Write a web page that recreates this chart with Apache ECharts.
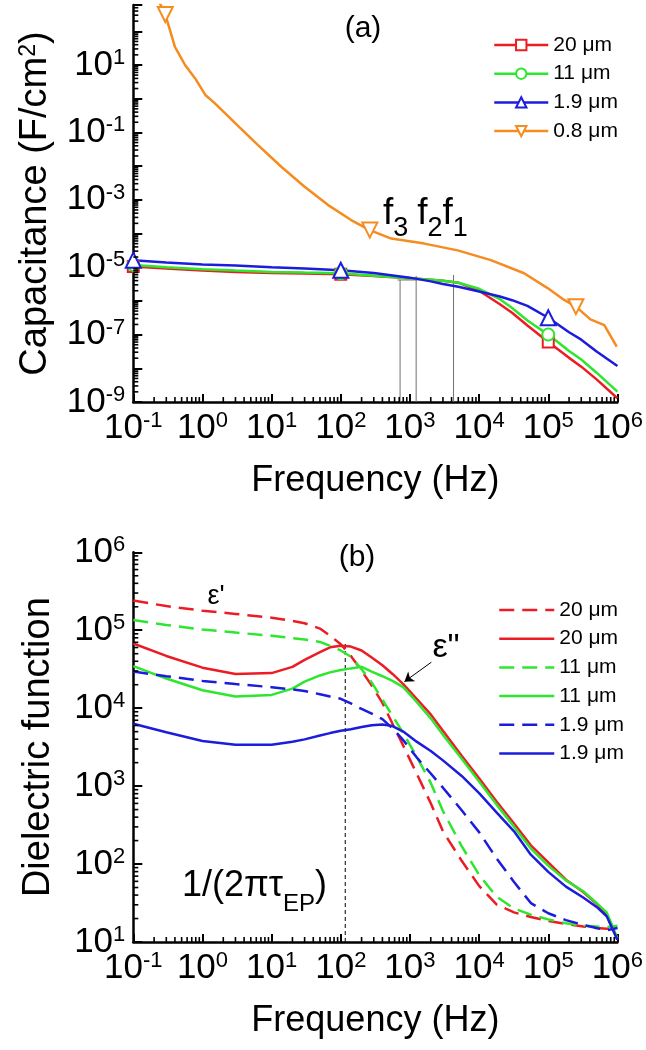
<!DOCTYPE html>
<html><head><meta charset="utf-8">
<script src="https://cdn.jsdelivr.net/npm/echarts@6.0.0/dist/echarts.min.js"></script>
<style>html,body{margin:0;padding:0;background:#fff}#c{width:646px;height:1050px}</style>
</head><body><div id="c"></div>
<script>
// ---------------- Panel (a): capacitance ----------------
const freqA = [0.1, 0.3, 1, 3, 10, 30, 100, 300, 1000, 2000, 3000, 5000, 1e4, 2e4, 3e4, 5e4, 1e5, 2e5, 3e5, 5e5, 1e6];
const capA_20um = [1.05e-5, 9.12e-6, 7.94e-6, 7.24e-6, 6.76e-6, 6.46e-6, 6.17e-6, 5.50e-6, 4.68e-6, 4.27e-6, 3.98e-6, 3.47e-6, 2.00e-6, 7.94e-7, 4.47e-7, 1.86e-7, 6.03e-8, 2.04e-8, 1.12e-8, 4.68e-9, 1.29e-9];
const capA_11um = [1.17e-5, 1.00e-5, 8.71e-6, 7.94e-6, 7.24e-6, 6.92e-6, 6.61e-6, 5.62e-6, 4.68e-6, 4.27e-6, 3.98e-6, 3.47e-6, 2.29e-6, 1.12e-6, 6.17e-7, 2.63e-7, 1.00e-7, 3.24e-8, 1.82e-8, 7.41e-9, 2.04e-9];
const capA_1p9um = [1.62e-5, 1.38e-5, 1.20e-5, 1.12e-5, 1.00e-5, 9.12e-6, 8.13e-6, 6.76e-6, 4.90e-6, 3.80e-6, 3.16e-6, 2.63e-6, 1.91e-6, 1.35e-6, 1.05e-6, 7.08e-7, 3.16e-7, 1.17e-7, 7.08e-8, 3.16e-8, 1.17e-8];
const freqA_0p8um = [0.23, 0.29, 0.40, 0.56, 0.78, 1.1, 1.5, 2.95, 6.3, 13.8, 30, 65, 141, 263, 537, 1620, 4900, 14800, 44700, 97700, 170000, 251000, 407000, 646000, 977000];
const capA_0p8um = [851, 316, 34.7, 10.0, 4.07, 1.29, 0.741, 0.191, 0.0427, 0.00955, 0.00245, 7.08e-4, 2.51e-4, 1.26e-4, 7.08e-5, 5.01e-5, 3.16e-5, 1.62e-5, 6.61e-6, 2.40e-6, 1.07e-6, 6.76e-7, 2.82e-7, 1.91e-7, 4.37e-8];
const markerFreqA = [0.1, 100, 1e5];
const markerFreqA_0p8um = [0.29, 263, 251000];
const guideFreqA = [720, 1230, 4270];          // f3, f2, f1
const guideTopCapA = [4.17e-6, 5.50e-6, 5.89e-6];
const guideBarFreqA = [660, 1290];
const guideBarCapA = 4.17e-6;

// ---------------- Panel (b): dielectric function ----------------
const freqB = [0.1, 0.3, 1, 3, 10, 20, 30, 50, 70, 100, 140, 200, 280, 400, 560, 800, 1250, 2000, 3000, 5600, 1e4, 1.8e4, 3.2e4, 5.6e4, 1e5, 1.8e5, 3.2e5, 5e5, 7e5, 1e6];
const epsReal_20um = [240000, 204000, 178000, 162000, 145000, 132000, 123000, 105000, 85100, 66100, 46800, 30200, 19500, 11700, 6310, 3310, 1450, 603, 263, 110, 52.5, 30.2, 24.0, 20.9, 18.6, 17.0, 15.8, 15.1, 14.8, 15.1];
const epsImag_20um = [67600, 46800, 33100, 27500, 28200, 33900, 41700, 52500, 60300, 63100, 61700, 55000, 44700, 35500, 27500, 20400, 13200, 8320, 5130, 2450, 1260, 631, 331, 174, 105, 63.1, 43.7, 30.9, 22.4, 10.7];
const epsReal_11um = [135000, 117000, 102000, 93300, 85100, 79400, 75900, 70800, 63100, 55000, 45700, 31600, 21400, 12900, 7940, 4790, 2400, 1100, 479, 170, 72.4, 38.0, 26.9, 22.4, 19.5, 17.4, 16.2, 15.8, 15.5, 16.2];
const epsImag_11um = [34700, 24000, 17000, 14100, 14800, 17800, 21900, 26300, 28800, 30900, 32400, 33900, 29500, 25700, 22400, 18600, 12000, 7410, 4570, 2240, 1150, 575, 302, 158, 95.5, 61.7, 44.7, 31.6, 24.0, 11.2];
const epsReal_1p9um = [29500, 25700, 22400, 20400, 18600, 17400, 16600, 15100, 14100, 13200, 11500, 9770, 8510, 7240, 5500, 3890, 2340, 1450, 955, 490, 257, 117, 58.9, 31.6, 23.4, 19.1, 16.6, 15.1, 14.1, 15.1];
const epsImag_1p9um = [6310, 4900, 3800, 3390, 3390, 3720, 3980, 4470, 4790, 5130, 5370, 5750, 6030, 6170, 5890, 5010, 3720, 2820, 2140, 1350, 813, 457, 263, 132, 79.4, 51.3, 37.2, 28.2, 21.4, 10.7];
const tauEPFreq = 116;       // 1/(2*pi*tau_EP)
const tauEPTopEps = 69200;
const arrowFrom = [2040, 38900];   // [Hz, eps] label arrow for eps''
const arrowTo = [832, 21900];

// ---------------- Tick labels (decade exponents) ----------------
const freqTickExp = [-1, 0, 1, 2, 3, 4, 5, 6];
const capTickExp = [-9, -7, -5, -3, -1, 1];
const epsTickExp = [1, 2, 3, 4, 5, 6];
const legendA = ['20 μm', '11 μm', '1.9 μm', '0.8 μm'];
const legendB = ['20 μm', '20 μm', '11 μm', '11 μm', '1.9 μm', '1.9 μm'];

// ---------------- styling / helpers ----------------
const FONT = "'Liberation Sans', Arial, Helvetica, sans-serif";
const RED = '#ec1c24', GREEN = '#2ee62e', BLUE = '#1c1cdc', ORANGE = '#f68b1f';
const lg = Math.log10;
const AX = { xMin: -1, xMax: 6, capMin: -9, capMax: 2.78, epsMin: 1, epsMax: 6 };

const labelRich = {
  b: { fontSize: 35, fontFamily: FONT, color: '#000', lineHeight: 36, verticalAlign: 'middle' },
  s: { fontSize: 22, fontFamily: FONT, color: '#000', lineHeight: 22, verticalAlign: 'top', padding: [0, 0, 30, 0] }
};
function expLabel(allowed) {
  return function (v) {
    const n = Math.round(v);
    if (Math.abs(v - n) > 1e-6 || allowed.indexOf(n) < 0) return '';
    return '{b|10}{s|' + n + '}';
  };
}
function toPts(fs, vs, marks) {
  return fs.map(function (f, i) {
    const item = { value: [lg(f), lg(vs[i])] };
    if (!marks || marks.indexOf(f) < 0) item.symbol = 'none';
    return item;
  });
}
function minorVals(lo, hi) {
  const out = [];
  for (let d = Math.floor(lo); d < hi; d++) for (let k = 2; k <= 9; k++) { const v = d + lg(k); if (v > lo && v < hi) out.push(v); }
  return out;
}
function minorTicks(gi, axis, lo, hi, fixed) {
  const vals = minorVals(lo, hi);
  return {
    type: 'custom', xAxisIndex: gi, yAxisIndex: gi, silent: true, clip: false, z: 10, animation: false,
    data: vals.map(v => axis === 'x' ? [v, fixed] : [fixed, v]),
    renderItem: function (params, api) {
      const p = api.coord([api.value(0), api.value(1)]);
      return { type: 'line', shape: axis === 'x' ? { x1: p[0], y1: p[1], x2: p[0], y2: p[1] - 5 } : { x1: p[0], y1: p[1], x2: p[0] + 5, y2: p[1] },
        style: { stroke: '#000', lineWidth: 1.6 } };
    }
  };
}
function xAxisCfg(gi) {
  return {
    type: 'value', gridIndex: gi, min: AX.xMin, max: AX.xMax, interval: 1,
    axisLine: { onZero: false, lineStyle: { color: '#000', width: 2.5 } },
    axisTick: { inside: true, length: 8, lineStyle: { color: '#000', width: 2 } },
    axisLabel: { formatter: expLabel(freqTickExp), margin: 8, rich: labelRich },
    splitLine: { show: false },
    name: 'Frequency (Hz)', nameLocation: 'middle', nameGap: 60,
    nameTextStyle: { fontSize: 36, fontFamily: FONT, color: '#000' }
  };
}
function yAxisCfg(gi, min, max, ticks, name, gap) {
  return {
    type: 'value', gridIndex: gi, min: min, max: max, interval: 1,
    axisLine: { onZero: false, lineStyle: { color: '#000', width: 2.5 } },
    axisTick: { inside: true, length: 9, lineStyle: { color: '#000', width: 2 } },
    axisLabel: { formatter: expLabel(ticks), margin: 8, rich: labelRich },
    splitLine: { show: false },
    name: name, nameLocation: 'middle', nameGap: gap,
    nameTextStyle: { fontSize: 38, fontFamily: FONT, color: '#000',
      rich: { sup: { fontSize: 23, fontFamily: FONT, color: '#000', lineHeight: 23, verticalAlign: 'top', padding: [0, 0, 16, 0] } } }
  };
}
function capSeries(name, color, symbol, size, rotate, fs, vs, marks) {
  return { name: name, type: 'line', xAxisIndex: 0, yAxisIndex: 0, data: toPts(fs, vs, marks),
    symbol: symbol, symbolSize: size, symbolRotate: rotate, showSymbol: true, clip: true,
    lineStyle: { color: color, width: 2.5 }, itemStyle: { color: color, borderWidth: 2 }, z: 3 };
}
function epsSeries(name, color, dashed, vs, extra) {
  return Object.assign({ name: name, type: 'line', xAxisIndex: 1, yAxisIndex: 1,
    data: freqB.map((f, i) => [lg(f), lg(vs[i])]), symbol: 'none', clip: true,
    lineStyle: { color: color, width: 2.5, type: dashed ? [15, 8] : 'solid' }, itemStyle: { color: color }, z: 3 }, extra || {});
}
function guideLine(points, color, width, type, gi) {
  return { type: 'line', xAxisIndex: gi, yAxisIndex: gi, data: points, symbol: 'none', silent: true,
    lineStyle: { color: color, width: width, type: type }, z: 2 };
}

const namesA = legendA.map(t => 'C|' + t);
const namesB = legendB.map((t, i) => (i % 2 === 0 ? 'Re|' : 'Im|') + t);

const series = [
  capSeries(namesA[0], RED, 'emptyRect', 11, 0, freqA, capA_20um, markerFreqA),
  capSeries(namesA[1], GREEN, 'emptyCircle', 12, 0, freqA, capA_11um, markerFreqA),
  capSeries(namesA[2], BLUE, 'emptyTriangle', 15, 0, freqA, capA_1p9um, markerFreqA),
  capSeries(namesA[3], ORANGE, 'emptyTriangle', 15, 180, freqA_0p8um, capA_0p8um, markerFreqA_0p8um),
  epsSeries(namesB[0], RED, true, epsReal_20um),
  epsSeries(namesB[1], RED, false, epsImag_20um, {
    markLine: { silent: true, animation: false, symbol: ['none', 'arrow'], symbolSize: 9, label: { show: false },
      lineStyle: { color: '#000', width: 1, type: 'solid' },
      data: [[{ coord: [lg(arrowFrom[0]), lg(arrowFrom[1])] }, { coord: [lg(arrowTo[0]), lg(arrowTo[1])] }]] }
  }),
  epsSeries(namesB[2], GREEN, true, epsReal_11um),
  epsSeries(namesB[3], GREEN, false, epsImag_11um),
  epsSeries(namesB[4], BLUE, true, epsReal_1p9um),
  epsSeries(namesB[5], BLUE, false, epsImag_1p9um)
];
guideFreqA.forEach((f, i) => series.push(guideLine([[lg(f), AX.capMin], [lg(f), lg(guideTopCapA[i])]], '#707070', 1, 'solid', 0)));
series.push(guideLine(guideBarFreqA.map(f => [lg(f), lg(guideBarCapA)]), '#707070', 1, 'solid', 0));
series.push(guideLine([[lg(tauEPFreq), AX.epsMin], [lg(tauEPFreq), lg(tauEPTopEps)]], '#000', 1, [4, 3], 1));
series.push(minorTicks(0, 'x', AX.xMin, AX.xMax, AX.capMin));
series.push(minorTicks(0, 'y', AX.capMin, AX.capMax, AX.xMin));
series.push(minorTicks(1, 'x', AX.xMin, AX.xMax, AX.epsMin));
series.push(minorTicks(1, 'y', AX.epsMin, AX.epsMax, AX.xMin));

const legendCommon = {
  orient: 'vertical', selectedMode: false, itemHeight: 13, itemGap: 6.7,
  formatter: n => n.split('|')[1],
  textStyle: { fontSize: 21, fontFamily: FONT, color: '#000', lineHeight: 22 }
};

const option = {
  animation: false,
  backgroundColor: '#fff',
  textStyle: { fontFamily: FONT },
  grid: [
    { left: 133.3, top: 5, width: 485, height: 397 },
    { left: 133.3, top: 552.3, width: 485, height: 389.7 }
  ],
  xAxis: [xAxisCfg(0), xAxisCfg(1)],
  yAxis: [
    yAxisCfg(0, AX.capMin, AX.capMax, capTickExp, 'Capacitance (F/cm{sup|2})', 76),
    yAxisCfg(1, AX.epsMin, AX.epsMax, epsTickExp, 'Dielectric function', 76)
  ],
  legend: [
    Object.assign({}, legendCommon, { data: namesA, left: 488, top: 29, itemWidth: 54,
      lineStyle: { width: 2.5 }, symbolRotate: 'inherit' }),
    Object.assign({}, legendCommon, { data: namesB, left: 493, top: 594, itemWidth: 55,
      lineStyle: { width: 2.5 }, itemStyle: { opacity: 0 } })
  ],
  graphic: [
    { type: 'text', x: 363, y: 29, style: { text: '(a)', fontSize: 30, fontFamily: FONT, fill: '#000', align: 'center', verticalAlign: 'middle' } },
    { type: 'text', x: 357, y: 558, style: { text: '(b)', fontSize: 30, fontFamily: FONT, fill: '#000', align: 'center', verticalAlign: 'middle' } },
    { type: 'text', x: 383, y: 195, style: { text: '{m|f}{s3|3}{m|f}{s|2}{m|f}{s|1}', align: 'left', verticalAlign: 'top',
      rich: { m: { fontSize: 37, fontFamily: FONT, fill: '#000', lineHeight: 36, verticalAlign: 'top' },
              s3: { fontSize: 27, fontFamily: FONT, fill: '#000', lineHeight: 26, verticalAlign: 'top', padding: [20, 9, 0, 0] },
              s: { fontSize: 27, fontFamily: FONT, fill: '#000', lineHeight: 26, verticalAlign: 'top', padding: [20, 0, 0, 0] } } } },
    { type: 'text', x: 216, y: 597, style: { text: "ε'", fontSize: 27, fontFamily: FONT, fill: '#000', align: 'center', verticalAlign: 'middle' } },
    { type: 'text', x: 446, y: 648, style: { text: 'ε"', fontSize: 34, fontFamily: FONT, fill: '#000', align: 'center', verticalAlign: 'middle' } },
    { type: 'text', x: 182, y: 868, style: { text: '{m|1/(2πτ}{s|EP}{m|)}', align: 'left', verticalAlign: 'top',
      rich: { m: { fontSize: 36, fontFamily: FONT, fill: '#000', lineHeight: 38, verticalAlign: 'top' },
              s: { fontSize: 24, fontFamily: FONT, fill: '#000', lineHeight: 24, verticalAlign: 'top', padding: [24, 0, 0, 0] } } } }
  ],
  series: series
};

const chart = echarts.init(document.getElementById('c'), null, { renderer: 'canvas', width: 646, height: 1050 });
chart.setOption(option);
</script>
</body></html>
